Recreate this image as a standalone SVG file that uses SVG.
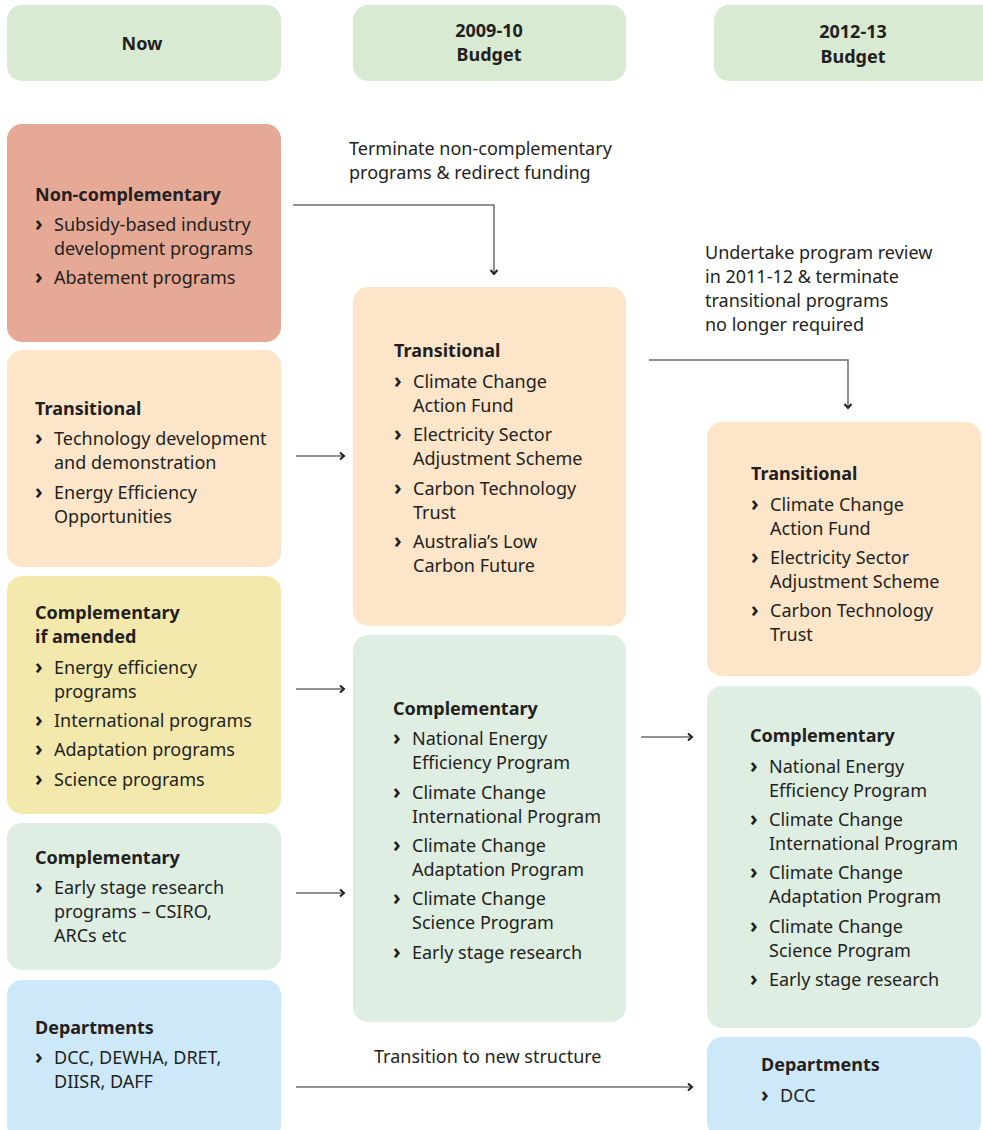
<svg xmlns="http://www.w3.org/2000/svg" width="983" height="1130" viewBox="0 0 983 1130">
  <style>
    text { font-family: "Noto Sans", "Open Sans", sans-serif; font-size: 18px; fill: #231f20; }
    .b { font-weight: bold; }
    .bl { font-weight: bold; font-size: 21px; }
    .hd { text-anchor: middle; font-weight: bold; }
    .hdr { fill: #d9ead3; }
    .noncomp { fill: #e6a995; }
    .trans { fill: #fde5ca; }
    .amend { fill: #f3e9ad; }
    .comp { fill: #dfeee2; }
    .dept { fill: #cde9f9; }
    .conn { fill: none; stroke: #6d6e71; stroke-width: 1.5; }
  </style>
  <defs>
    <marker id="chev" markerWidth="10" markerHeight="10" refX="7" refY="5" orient="auto" markerUnits="userSpaceOnUse">
      <path d="M3,1.5 L7,5 L3,8.5" fill="none" stroke="#231f20" stroke-width="2"/>
    </marker>
  </defs>

  <!-- column headers -->
  <g id="hdr-now">
    <rect class="hdr" x="7" y="5" width="274" height="76" rx="15"/>
    <text class="hd" x="142" y="50">Now</text>
  </g>
  <g id="hdr-2009">
    <rect class="hdr" x="353" y="5" width="273" height="76" rx="15"/>
    <text class="hd" x="489" y="37">2009-10</text>
    <text class="hd" x="489" y="61">Budget</text>
  </g>
  <g id="hdr-2012">
    <rect class="hdr" x="714" y="5" width="285" height="76" rx="15"/>
    <text class="hd" x="853" y="38">2012-13</text>
    <text class="hd" x="853" y="63">Budget</text>
  </g>

  <!-- Now column -->
  <g id="now-noncomp">
    <rect class="noncomp" x="7" y="124" width="274" height="218" rx="15"/>
    <text class="b" x="35" y="201">Non-complementary</text>
    <text class="bl" x="35" y="231">›</text><text x="54" y="231">Subsidy-based industry</text>
    <text x="54" y="255">development programs</text>
    <text class="bl" x="35" y="284">›</text><text x="54" y="284">Abatement programs</text>
  </g>
  <g id="now-trans">
    <rect class="trans" x="7" y="350" width="274" height="217" rx="15"/>
    <text class="b" x="35" y="415">Transitional</text>
    <text class="bl" x="35" y="445">›</text><text x="54" y="445">Technology development</text>
    <text x="54" y="469">and demonstration</text>
    <text class="bl" x="35" y="499">›</text><text x="54" y="499">Energy Efficiency</text>
    <text x="54" y="523">Opportunities</text>
  </g>
  <g id="now-amend">
    <rect class="amend" x="7" y="576" width="274" height="238" rx="15"/>
    <text class="b" x="35" y="619">Complementary</text>
    <text class="b" x="35" y="643">if amended</text>
    <text class="bl" x="35" y="674">›</text><text x="54" y="674">Energy efficiency</text>
    <text x="54" y="698">programs</text>
    <text class="bl" x="35" y="727">›</text><text x="54" y="727">International programs</text>
    <text class="bl" x="35" y="756">›</text><text x="54" y="756">Adaptation programs</text>
    <text class="bl" x="35" y="786">›</text><text x="54" y="786">Science programs</text>
  </g>
  <g id="now-comp">
    <rect class="comp" x="7" y="823" width="274" height="147" rx="15"/>
    <text class="b" x="35" y="864">Complementary</text>
    <text class="bl" x="35" y="894">›</text><text x="54" y="894">Early stage research</text>
    <text x="54" y="918">programs – CSIRO,</text>
    <text x="54" y="942">ARCs etc</text>
  </g>
  <g id="now-dept">
    <rect class="dept" x="7" y="980" width="274" height="160" rx="15"/>
    <text class="b" x="35" y="1034">Departments</text>
    <text class="bl" x="35" y="1064">›</text><text x="54" y="1064">DCC, DEWHA, DRET,</text>
    <text x="54" y="1088">DIISR, DAFF</text>
  </g>

  <!-- 2009-10 column -->
  <g id="b09-trans">
    <rect class="trans" x="353" y="287" width="273" height="339" rx="15"/>
    <text class="b" x="394" y="357">Transitional</text>
    <text class="bl" x="394" y="388">›</text><text x="413" y="388">Climate Change</text>
    <text x="413" y="412">Action Fund</text>
    <text class="bl" x="394" y="441">›</text><text x="413" y="441">Electricity Sector</text>
    <text x="413" y="465">Adjustment Scheme</text>
    <text class="bl" x="394" y="495">›</text><text x="413" y="495">Carbon Technology</text>
    <text x="413" y="519">Trust</text>
    <text class="bl" x="394" y="548">›</text><text x="413" y="548">Australia’s Low</text>
    <text x="413" y="572">Carbon Future</text>
  </g>
  <g id="b09-comp">
    <rect class="comp" x="353" y="635" width="273" height="387" rx="15"/>
    <text class="b" x="393" y="715">Complementary</text>
    <text class="bl" x="393" y="745">›</text><text x="412" y="745">National Energy</text>
    <text x="412" y="769">Efficiency Program</text>
    <text class="bl" x="393" y="799">›</text><text x="412" y="799">Climate Change</text>
    <text x="412" y="823">International Program</text>
    <text class="bl" x="393" y="852">›</text><text x="412" y="852">Climate Change</text>
    <text x="412" y="876">Adaptation Program</text>
    <text class="bl" x="393" y="905">›</text><text x="412" y="905">Climate Change</text>
    <text x="412" y="929">Science Program</text>
    <text class="bl" x="393" y="959">›</text><text x="412" y="959">Early stage research</text>
  </g>

  <!-- 2012-13 column -->
  <g id="b12-trans">
    <rect class="trans" x="707" y="422" width="274" height="254" rx="15"/>
    <text class="b" x="751" y="480">Transitional</text>
    <text class="bl" x="751" y="511">›</text><text x="770" y="511">Climate Change</text>
    <text x="770" y="535">Action Fund</text>
    <text class="bl" x="751" y="564">›</text><text x="770" y="564">Electricity Sector</text>
    <text x="770" y="588">Adjustment Scheme</text>
    <text class="bl" x="751" y="617">›</text><text x="770" y="617">Carbon Technology</text>
    <text x="770" y="641">Trust</text>
  </g>
  <g id="b12-comp">
    <rect class="comp" x="707" y="686" width="274" height="342" rx="15"/>
    <text class="b" x="750" y="742">Complementary</text>
    <text class="bl" x="750" y="773">›</text><text x="769" y="773">National Energy</text>
    <text x="769" y="797">Efficiency Program</text>
    <text class="bl" x="750" y="826">›</text><text x="769" y="826">Climate Change</text>
    <text x="769" y="850">International Program</text>
    <text class="bl" x="750" y="879">›</text><text x="769" y="879">Climate Change</text>
    <text x="769" y="903">Adaptation Program</text>
    <text class="bl" x="750" y="933">›</text><text x="769" y="933">Climate Change</text>
    <text x="769" y="957">Science Program</text>
    <text class="bl" x="750" y="986">›</text><text x="769" y="986">Early stage research</text>
  </g>
  <g id="b12-dept">
    <rect class="dept" x="707" y="1037" width="274" height="100" rx="15"/>
    <text class="b" x="761" y="1071">Departments</text>
    <text class="bl" x="761" y="1102">›</text><text x="780" y="1102">DCC</text>
  </g>

  <!-- connector labels -->
  <g id="notes">
    <text x="349" y="155">Terminate non-complementary</text>
    <text x="349" y="179">programs &amp; redirect funding</text>
    <text x="705" y="259">Undertake program review</text>
    <text x="705" y="283">in 2011-12 &amp; terminate</text>
    <text x="705" y="307">transitional programs</text>
    <text x="705" y="331">no longer required</text>
    <text x="374" y="1063">Transition to new structure</text>
  </g>

  <!-- connectors -->
  <g id="connectors">
    <path class="conn" d="M293,205 H494 V274" marker-end="url(#chev)"/>
    <path class="conn" d="M649,360 H848 V408" marker-end="url(#chev)"/>
    <path class="conn" d="M296,456 H344" marker-end="url(#chev)"/>
    <path class="conn" d="M296,689 H344" marker-end="url(#chev)"/>
    <path class="conn" d="M296,893 H344" marker-end="url(#chev)"/>
    <path class="conn" d="M641,737 H692" marker-end="url(#chev)"/>
    <path class="conn" d="M296,1087 H692" marker-end="url(#chev)"/>
  </g>
</svg>
